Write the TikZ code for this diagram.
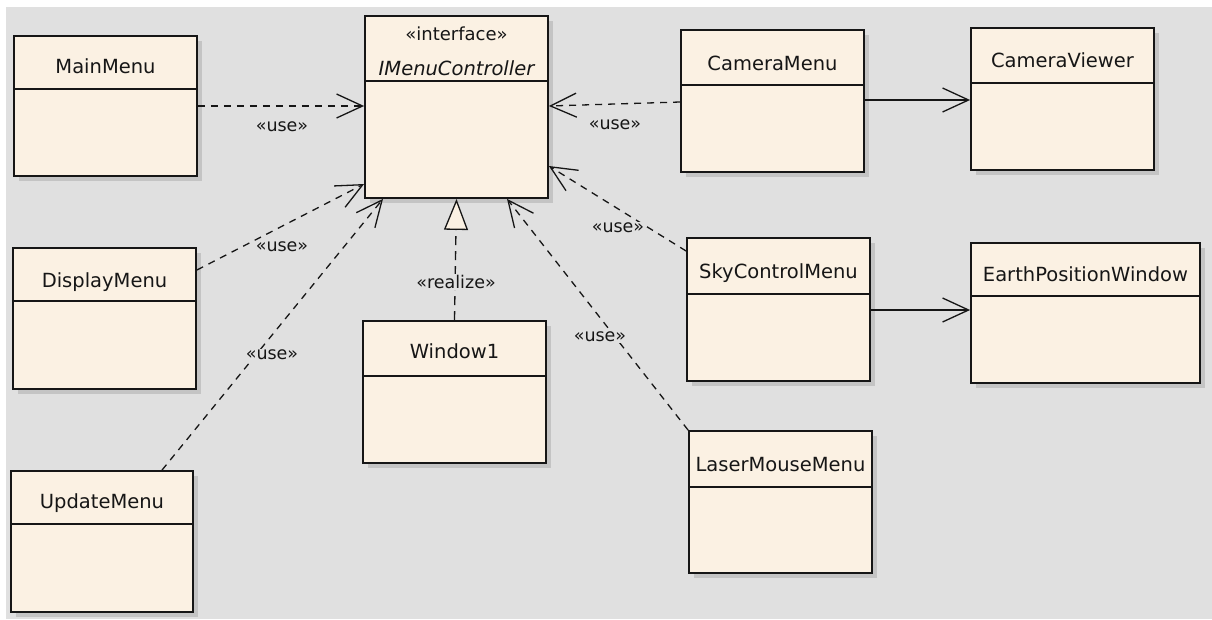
\documentclass[tikz,border=0pt]{standalone}
\usepackage{fontspec}
\setmainfont{DejaVu Sans}
\usetikzlibrary{arrows.meta,shadows}

\definecolor{canvas}{RGB}{224,224,224}
\definecolor{classfill}{RGB}{251,241,227}
\definecolor{shade}{RGB}{196,196,196}
\definecolor{ink}{RGB}{22,22,22}

\tikzset{
  classbox/.style={draw=ink, line width=1.8pt, fill=classfill, inner sep=0pt,
    general shadow={fill=shade, shadow xshift=5pt, shadow yshift=-5pt}},
  classname/.style={anchor=base, inner sep=0pt, text=ink, font=\fontsize{19.5}{22}\selectfont},
  divider/.style={draw=ink, line width=1.5pt},
  stereo/.style={fill=canvas, inner sep=1pt, text=ink, font=\fontsize{17.5}{20}\selectfont},
  usedep/.style={draw=ink, line width=1.3pt, dash pattern=on 7pt off 6pt,
    -{Straight Barb[length=26pt, width=24pt, line width=1.3pt]}},
  assoc/.style={draw=ink, line width=1.6pt,
    -{Straight Barb[length=26pt, width=24pt, line width=1.3pt]}},
  realizes/.style={draw=ink, line width=1.3pt, dash pattern=on 9pt off 6pt,
    -{Triangle[length=31pt, width=24pt, fill=classfill, line width=1.3pt]}}
}

% class box: name, x1, y1, x2, y2, divider y, title baseline y, title
\newcommand{\umlclass}[8]{%
  \node[classbox, minimum width={#4pt-#2pt}, minimum height={#5pt-#3pt}]
    (#1) at ({(#2+#4)/2},{(#3+#5)/2}) {};
  \node[classname] (#1-title) at ({(#2+#4)/2},#7) {#8};
  \draw[divider] ([yshift={#3pt-#6pt}]#1.north west) -- ([yshift={#3pt-#6pt}]#1.north east);
}

\begin{document}
\begin{tikzpicture}[x=1pt, y=-1pt]
  \useasboundingbox (0,0) rectangle (1212,619);
  \fill[white] (0,0) rectangle (1212,619);
  \fill[canvas] (6,7) rectangle (1212,619);

  % interface
  \node[classbox, minimum width=183pt, minimum height=182pt] (imc) at (456.5,107) {};
  \node[classname, font=\fontsize{18}{20}\selectfont] (imc-stereo) at (456.5,40) {«interface»};
  \node[classname, font=\fontsize{19.5}{22}\selectfont\itshape] (imc-title) at (456.5,75) {IMenuController};
  \draw[divider] ([yshift=-66pt]imc.north west) -- ([yshift=-66pt]imc.north east);

  % classes
  \umlclass{mainmenu}{14}{36}{197}{176}{90}{73}{MainMenu}
  \umlclass{dispmenu}{13}{248}{196}{389}{302}{287}{DisplayMenu}
  \umlclass{updmenu}{11}{471}{193}{612}{525}{508}{UpdateMenu}
  \umlclass{window1}{363}{321}{546}{463}{377}{358}{Window1}
  \umlclass{cammenu}{681}{30}{864}{172}{86}{70}{CameraMenu}
  \umlclass{camview}{971}{28}{1154}{170}{84}{67}{CameraViewer}
  \umlclass{skymenu}{687}{238}{870}{381}{295}{278}{SkyControlMenu}
  \umlclass{earthwin}{971}{243}{1200}{383}{297}{281}{EarthPositionWindow}
  \umlclass{lasermenu}{689}{431}{872}{573}{488}{471}{LaserMouseMenu}

  % dependencies on the interface
  \draw[usedep] (mainmenu.east |- 0,106) -- (imc.west |- 0,106);
  \draw[usedep] (cammenu.west |- 0,102) -- (imc.east |- 0,106);
  \draw[usedep] (dispmenu.east |- 0,270) -- (imc.west |- 0,184);
  \draw[usedep] (updmenu.north -| 162,0) -- (imc.south -| 383,0);
  \draw[usedep] (lasermenu.north west) -- (imc.south -| 507,0);
  \draw[usedep] (skymenu.west |- 0,251) -- (imc.east |- 0,166);
  \draw[realizes] (window1.north) -- (imc.south);

  % associations
  \draw[assoc] (cammenu.east |- 0,100) -- (camview.west |- 0,100);
  \draw[assoc] (skymenu.east |- 0,310) -- (earthwin.west |- 0,310);

  % stereotype labels
  \node[stereo] (l-main) at (282,127) {«use»};
  \node[stereo] (l-cam) at (615,125) {«use»};
  \node[stereo] (l-disp) at (282,247) {«use»};
  \node[stereo] (l-upd) at (272,355) {«use»};
  \node[stereo] (l-win) at (456,282) {«realize»};
  \node[stereo] (l-laser) at (600,337) {«use»};
  \node[stereo] (l-sky) at (618,228) {«use»};
\end{tikzpicture}
\end{document}
